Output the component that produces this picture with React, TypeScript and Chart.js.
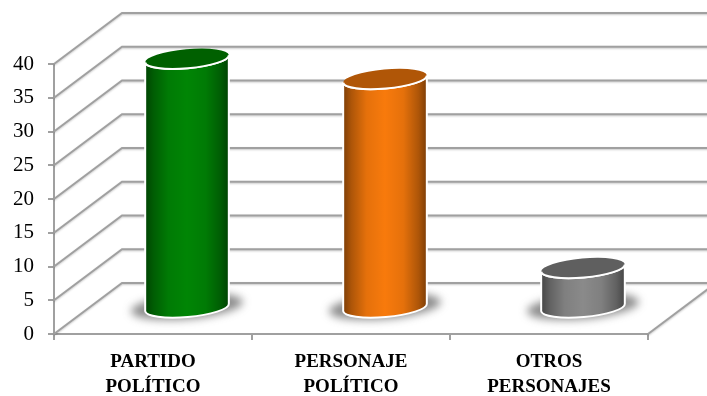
import { useEffect, useRef } from "react";
import { Chart, registerables } from "chart.js";
import type { Plugin } from "chart.js";

Chart.register(...registerables);

const categories = [["PARTIDO", "POLÍTICO"], ["PERSONAJE", "POLÍTICO"], ["OTROS", "PERSONAJES"]];
const values = [37, 34, 6];
const barColors = ["#008505", "#f87a0c", "#8a8a8a"];
const barTopColors = ["#006000", "#b05607", "#5f5f5f"];

const GRID = "#a0a0a0";
const DEPTH_X = 68;
const DEPTH_Y = 51;
const FONT = "'Liberation Serif', serif";

// Side and back walls, floor edge, all offset from the linear scale's tick pixels.
const walls: Plugin<"bar"> = {
  id: "walls",
  beforeDatasetsDraw(chart) {
    const { ctx, chartArea, scales } = chart;
    const y = scales.y;
    ctx.save();
    ctx.strokeStyle = GRID;
    ctx.lineWidth = 2;
    ctx.shadowColor = "rgba(0,0,0,0.22)";
    ctx.shadowBlur = 2;
    ctx.shadowOffsetY = 1;
    for (const tick of y.ticks) {
      const py = y.getPixelForValue(tick.value);
      ctx.beginPath();
      ctx.moveTo(chartArea.left, py);
      ctx.lineTo(chartArea.left + DEPTH_X, py - DEPTH_Y);
      ctx.lineTo(chartArea.right + DEPTH_X, py - DEPTH_Y);
      ctx.stroke();
    }
    ctx.beginPath();
    ctx.moveTo(chartArea.right, chartArea.bottom);
    ctx.lineTo(chartArea.right + DEPTH_X, chartArea.bottom - DEPTH_Y);
    ctx.stroke();
    ctx.restore();
  },
};

// Replaces the flat bars with tilted cylinders standing mid-way along the floor depth.
const cylinders: Plugin<"bar"> = {
  id: "cylinders",
  beforeDatasetDraw(chart, args) {
    const { ctx } = chart;
    const tilt = (-5 * Math.PI) / 180;
    args.meta.data.forEach((bar: any, i: number) => {
      const cx = bar.x + DEPTH_X / 2;
      const topY = bar.y - DEPTH_Y / 2;
      const baseY = bar.base - DEPTH_Y / 2;
      const rx = bar.width / 2;
      const ry = 9.5;
      const dx = rx * Math.cos(tilt);
      const dy = rx * Math.sin(tilt);

      ctx.save();
      ctx.filter = "blur(4px)";
      ctx.fillStyle = "rgba(70,70,70,0.62)";
      ctx.beginPath();
      ctx.ellipse(cx, baseY - 1, rx + 14, ry + 3, tilt, 0, Math.PI * 2);
      ctx.fill();
      ctx.restore();

      const bodyPath = () => {
        ctx.beginPath();
        ctx.moveTo(cx - dx, topY - dy);
        ctx.lineTo(cx - dx, baseY - dy);
        ctx.ellipse(cx, baseY, rx, ry, tilt, Math.PI, 0, true);
        ctx.lineTo(cx + dx, topY + dy);
        ctx.ellipse(cx, topY, rx, ry, tilt, 0, Math.PI, false);
        ctx.closePath();
      };

      // Curved-surface shading: dark rims falling off towards a bright centre.
      const shade = ctx.createLinearGradient(cx - rx, 0, cx + rx, 0);
      shade.addColorStop(0, "rgba(0,0,0,0.5)");
      shade.addColorStop(0.1, "rgba(0,0,0,0.3)");
      shade.addColorStop(0.28, "rgba(0,0,0,0.08)");
      shade.addColorStop(0.5, "rgba(0,0,0,0)");
      shade.addColorStop(0.72, "rgba(0,0,0,0.08)");
      shade.addColorStop(0.9, "rgba(0,0,0,0.3)");
      shade.addColorStop(1, "rgba(0,0,0,0.5)");

      ctx.save();
      bodyPath();
      ctx.fillStyle = barColors[i];
      ctx.fill();
      ctx.fillStyle = shade;
      ctx.fill();
      ctx.strokeStyle = "#ffffff";
      ctx.lineWidth = 2;
      ctx.stroke();

      ctx.beginPath();
      ctx.ellipse(cx, topY, rx, ry, tilt, 0, Math.PI * 2);
      ctx.fillStyle = barTopColors[i];
      ctx.fill();
      ctx.beginPath();
      ctx.ellipse(cx, topY, rx, ry, tilt, 0, Math.PI, false);
      ctx.stroke();
      ctx.restore();
    });
    return false;
  },
};

export default function App() {
  const canvasRef = useRef<HTMLCanvasElement>(null);

  useEffect(() => {
    document.body.style.margin = "0";
    const chart = new Chart(canvasRef.current!, {
      type: "bar",
      data: {
        labels: categories,
        datasets: [{ data: values, backgroundColor: barColors, barPercentage: 1, categoryPercentage: 0.424 }],
      },
      plugins: [walls, cylinders],
      options: {
        responsive: false,
        animation: false,
        layout: { padding: { top: 64, right: 59, left: 0, bottom: 0 } },
        plugins: { legend: { display: false }, tooltip: { enabled: false } },
        scales: {
          x: {
            afterFit: (axis) => { axis.height = 62; },
            border: { color: GRID, width: 2 },
            grid: { drawOnChartArea: false, color: GRID, lineWidth: 2, tickLength: 6 },
            ticks: {
              color: "#000000",
              padding: 10,
              maxRotation: 0,
              font: { family: FONT, size: 19, weight: "bold", lineHeight: 1.3 },
            },
          },
          y: {
            min: 0,
            max: 40,
            afterFit: (axis) => { axis.width = 54; },
            border: { color: GRID, width: 2 },
            grid: { drawOnChartArea: false, color: GRID, lineWidth: 2, tickLength: 6 },
            ticks: { stepSize: 5, color: "#000000", padding: 14, font: { family: FONT, size: 21 } },
          },
        },
      },
    });
    return () => chart.destroy();
  }, []);

  return (
    <div style={{ width: 707, height: 396 }}>
      <canvas ref={canvasRef} width={707} height={396} style={{ display: "block" }} />
    </div>
  );
}
